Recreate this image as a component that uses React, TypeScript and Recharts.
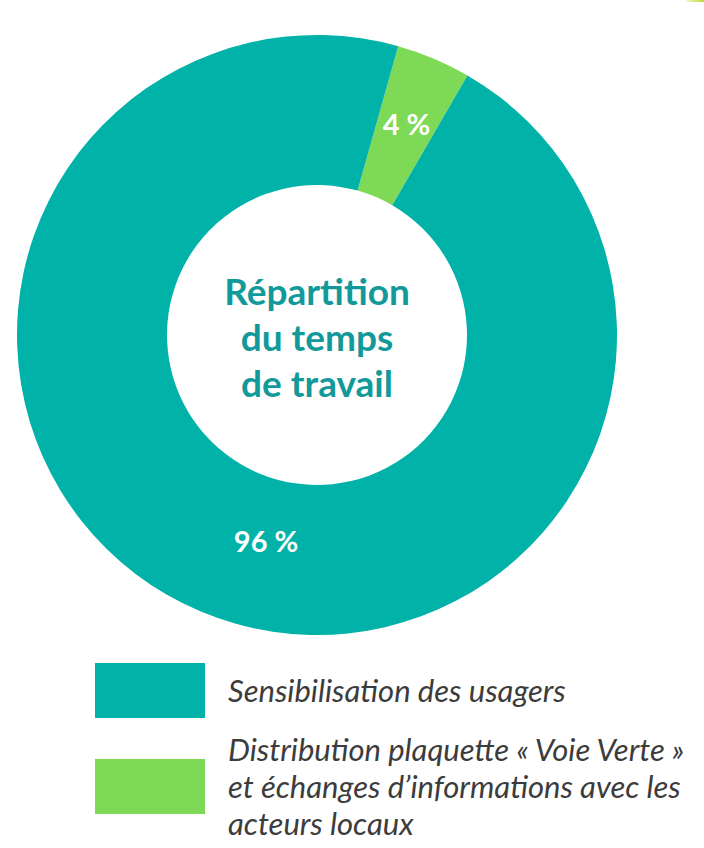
import { PieChart, Pie, Cell } from 'recharts';

const categories = ['Distribution plaquette « Voie Verte » et échanges d’informations avec les acteurs locaux', 'Sensibilisation des usagers'];
const shares = [4, 96];
const legendOrder = [1, 0];
const colors = ['#7ed957', '#00b2a8'];
const titleLines = ['Répartition', 'du temps', 'de travail'];

// label nudges (angle in degrees, radius in px) so labels sit where the original put them
const labelShift = [0, 9];
const labelRadiusShift = [5, -13];

const data = categories.map((name, i) => ({ name, value: shares[i] }));

const RAD = Math.PI / 180;

function renderLabel(props: any) {
    const { cx, cy, midAngle, innerRadius, outerRadius, value, index } = props;
    const r = (innerRadius + outerRadius) / 2 + labelRadiusShift[index];
    const a = midAngle + labelShift[index];
    const x = cx + r * Math.cos(-a * RAD);
    const y = cy + r * Math.sin(-a * RAD);
    return (
        <text x={x} y={y} fill="#fff" textAnchor="middle" dominantBaseline="central"
            style={{ fontFamily: 'Lato, sans-serif', fontSize: 29, fontWeight: 700 }}>
            {value} %
        </text>
    );
}

export default function App() {
    const start = 90 - 15.7;
    return (
        <div style={{ position: 'absolute', left: 0, top: 0, width: 704, height: 848, background: '#fff', overflow: 'hidden' }}>
            <div style={{ position: 'absolute', right: 0, top: 0, width: 18, height: 2, background: 'linear-gradient(to right, #f4f9d0, #b9d92c)' }} />
            <PieChart width={704} height={650} margin={{ top: 0, right: 0, bottom: 0, left: 0 }}>
                <Pie
                    data={data}
                    dataKey="value"
                    cx={317}
                    cy={335}
                    innerRadius={150}
                    outerRadius={300}
                    startAngle={start}
                    endAngle={start - 360}
                    stroke="none"
                    label={renderLabel}
                    labelLine={false}
                    isAnimationActive={false}
                >
                    {data.map((d, i) => <Cell key={d.name} fill={colors[i]} />)}
                </Pie>
            </PieChart>
            <div style={{ position: 'absolute', left: 117, top: 268, width: 400, textAlign: 'center', color: '#12999a',
                fontFamily: 'Lato, sans-serif', fontWeight: 700, fontSize: 37, lineHeight: '46px' }}>
                {titleLines.map(t => <div key={t}>{t}</div>)}
            </div>
            <div style={{ position: 'absolute', left: 95, top: 663, width: 609, fontFamily: 'Lato, sans-serif', fontStyle: 'italic', fontSize: 31, color: '#3c3c3c', lineHeight: '37px' }}>
                {legendOrder.map((idx, k) => (
                    <div key={idx} style={{ display: 'flex', alignItems: 'center', marginTop: k === 0 ? 0 : 13 }}>
                        <div style={{ width: 110, height: 55, background: colors[idx], flexShrink: 0 }} />
                        <div style={{ marginLeft: 23 }}>{categories[idx]}</div>
                    </div>
                ))}
            </div>
        </div>
    );
}
